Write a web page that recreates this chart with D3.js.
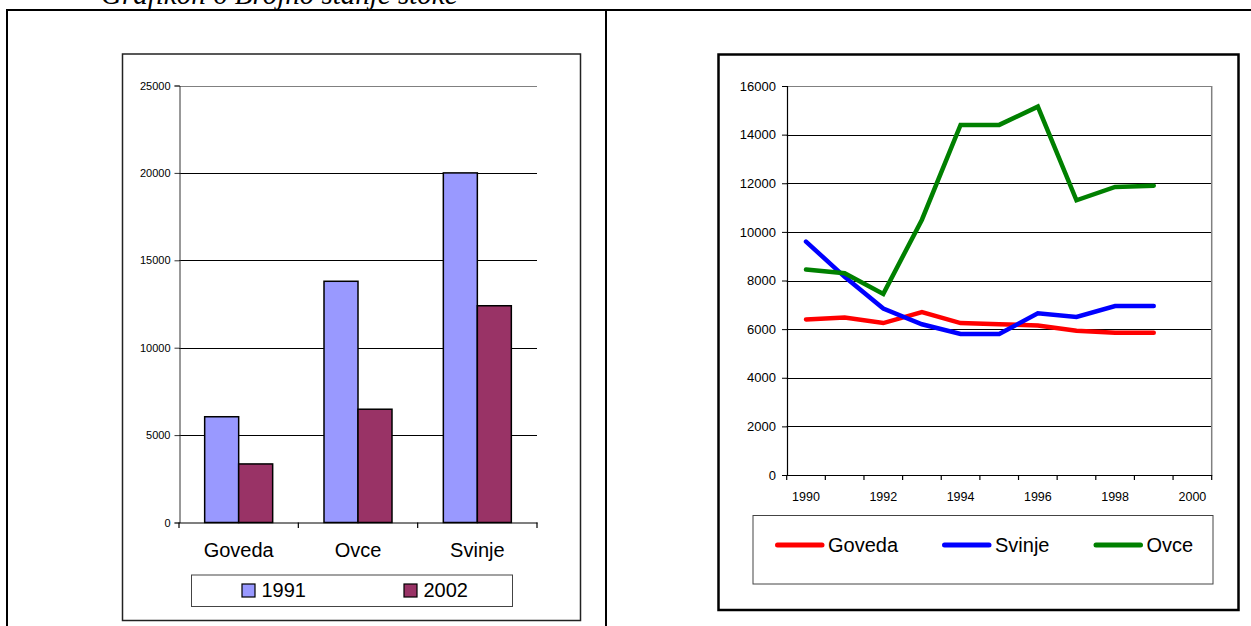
<!DOCTYPE html>
<html>
<head>
<meta charset="utf-8">
<script src="https://cdn.jsdelivr.net/npm/d3@7"></script>
<style>
  html, body { margin: 0; padding: 0; background: #fff; }
  svg { display: block; }
  text { font-family: Arial, "Liberation Sans", sans-serif; }
</style>
</head>
<body>
<svg id="chart" width="1251" height="626"></svg>
<script>
// ---------- data ----------
const titleText = "Grafikon 6 Brojno stanje stoke";

const barCategories = ["Goveda", "Ovce", "Svinje"];
const barSeries = ["1991", "2002"];
const values1991 = [6050, 13800, 20000];
const values2002 = [3350, 6480, 12400];
const barTicks = [0, 5000, 10000, 15000, 20000, 25000];

const years = ["1990", "1991", "1992", "1993", "1994", "1995", "1996", "1997", "1998", "1999", "2000"];
const yearLabels = ["1990", "1992", "1994", "1996", "1998", "2000"];
const lineSeries = ["Goveda", "Svinje", "Ovce"];
const goveda = [6400, 6480, 6250, 6700, 6250, 6200, 6150, 5930, 5850, 5850];
const svinje = [9600, 8150, 6850, 6200, 5800, 5800, 6650, 6500, 6950, 6950];
const ovce = [8450, 8300, 7450, 10500, 14400, 14400, 15150, 11300, 11850, 11900];
const lineTicks = [0, 2000, 4000, 6000, 8000, 10000, 12000, 14000, 16000];

// ---------- drawing ----------
const svg = d3.select("#chart");

// title (cut off at the top)
svg.append("text")
  .attr("x", 101).attr("y", 4)
  .style("font-family", "'Liberation Serif', 'Times New Roman', serif")
  .style("font-style", "italic")
  .style("font-size", "29px")
  .attr("fill", "#000")
  .text(titleText);

// table lines
svg.append("line").attr("x1", 6).attr("x2", 1251).attr("y1", 10).attr("y2", 10).attr("stroke", "#000").attr("stroke-width", 2);
svg.append("line").attr("x1", 7).attr("x2", 7).attr("y1", 9).attr("y2", 626).attr("stroke", "#000").attr("stroke-width", 2);
svg.append("line").attr("x1", 606).attr("x2", 606).attr("y1", 9).attr("y2", 626).attr("stroke", "#000").attr("stroke-width", 2);

// ===== LEFT: bar chart =====
const L = svg.append("g");
L.append("rect").attr("x", 122.5).attr("y", 54).attr("width", 458).attr("height", 566.5)
  .attr("fill", "#fff").attr("stroke", "#222").attr("stroke-width", 1.5);

const bx = d3.scaleBand().domain(barCategories).range([179, 537]).padding(0);
const bxs = d3.scaleBand().domain(barSeries).range([0, bx.bandwidth()]).paddingInner(0).paddingOuter(0.755);
const by = d3.scaleLinear().domain([0, 25000]).range([522.5, 85.5]);

// gridlines
L.append("g").selectAll("line").data(barTicks.filter(t => t > 0)).join("line")
  .attr("x1", 179).attr("x2", 537)
  .attr("y1", d => Math.round(by(d)) + 0.5).attr("y2", d => Math.round(by(d)) + 0.5)
  .attr("stroke", d => d === 25000 ? "#808080" : "#000").attr("stroke-width", 1);

// bars
const barColors = { "1991": "#9999FF", "2002": "#993366" };
const barData = [];
barCategories.forEach((c, i) => {
  barData.push({ cat: c, ser: "1991", v: values1991[i] });
  barData.push({ cat: c, ser: "2002", v: values2002[i] });
});
L.append("g").selectAll("rect").data(barData).join("rect")
  .attr("x", d => bx(d.cat) + bxs(d.ser))
  .attr("width", bxs.bandwidth())
  .attr("y", d => by(d.v))
  .attr("height", d => by(0) - by(d.v))
  .attr("fill", d => barColors[d.ser])
  .attr("stroke", "#000").attr("stroke-width", 1.5);

// y axis
const byAxis = d3.axisLeft(by).tickValues(barTicks).tickSize(5).tickPadding(4).tickFormat(d3.format("d"));
const gby = L.append("g").attr("transform", "translate(179.5,0)").call(byAxis);
gby.select(".domain").attr("stroke", "#333");
gby.selectAll(".tick line").attr("stroke", "#333");
gby.selectAll(".tick text").style("font-size", "11px").attr("fill", "#000");

// x axis
const bxAxis = d3.axisBottom(bx).tickSize(0).tickPadding(20);
const gbx = L.append("g").attr("transform", "translate(0,522.5)").call(bxAxis);
gbx.select(".domain").attr("stroke", "#000").attr("stroke-width", 1.2);
gbx.selectAll(".tick text").style("font-size", "20px").attr("fill", "#000");
// boundary tick marks
L.append("g").selectAll("line").data(barCategories.concat(["__end"])).join("line")
  .attr("x1", (d, i) => i < barCategories.length ? bx(d) : bx.range()[1])
  .attr("x2", (d, i) => i < barCategories.length ? bx(d) : bx.range()[1])
  .attr("y1", 522.5).attr("y2", 528).attr("stroke", "#000").attr("stroke-width", 1.2);

// legend
const lg = L.append("g");
lg.append("rect").attr("x", 191.5).attr("y", 575).attr("width", 321).attr("height", 31.5)
  .attr("fill", "#fff").attr("stroke", "#444").attr("stroke-width", 1);
const legX = { "1991": 242, "2002": 404 };
barSeries.forEach(s => {
  lg.append("rect").attr("x", legX[s]).attr("y", 584).attr("width", 13).attr("height", 13)
    .attr("fill", barColors[s]).attr("stroke", "#000").attr("stroke-width", 1.2);
  lg.append("text").attr("x", legX[s] + 19.5).attr("y", 597).style("font-size", "20px").attr("fill", "#000").text(s);
});

// ===== RIGHT: line chart =====
const R = svg.append("g");
R.append("rect").attr("x", 718.5).attr("y", 54.5).attr("width", 520).attr("height", 555.5)
  .attr("fill", "#fff").attr("stroke", "#000").attr("stroke-width", 2.5);

const lx = d3.scaleBand().domain(years).range([786.7, 1211.7]).padding(0);
const ly = d3.scaleLinear().domain([0, 16000]).range([475, 86]);

// gridlines
R.append("g").selectAll("line").data(lineTicks.filter(t => t > 0)).join("line")
  .attr("x1", 786.7).attr("x2", 1211.7)
  .attr("y1", d => Math.round(ly(d)) + 0.5).attr("y2", d => Math.round(ly(d)) + 0.5)
  .attr("stroke", d => d === 16000 ? "#808080" : "#000").attr("stroke-width", 1);
// right border of plot area
R.append("line").attr("x1", 1211.7).attr("x2", 1211.7).attr("y1", ly(16000)).attr("y2", ly(0))
  .attr("stroke", "#808080").attr("stroke-width", 1.5);

// y axis
const lyAxis = d3.axisLeft(ly).tickValues(lineTicks).tickSize(5).tickPadding(6).tickFormat(d3.format("d"));
const gly = R.append("g").attr("transform", "translate(787,0)").call(lyAxis);
gly.select(".domain").attr("stroke", "#000").attr("stroke-width", 1.2);
gly.selectAll(".tick line").attr("stroke", "#000");
gly.selectAll(".tick text").style("font-size", "13px").attr("fill", "#000");

// x axis
const lxAxis = d3.axisBottom(lx).tickSize(0).tickPadding(17)
  .tickFormat(d => yearLabels.includes(d) ? d : "");
const glx = R.append("g").attr("transform", "translate(0,475)").call(lxAxis);
glx.select(".domain").attr("stroke", "#000").attr("stroke-width", 1.2);
glx.selectAll(".tick text").style("font-size", "12.5px").attr("fill", "#000");
R.append("g").selectAll("line").data(years.concat(["__end"])).join("line")
  .attr("x1", (d, i) => i < years.length ? lx(d) : lx.range()[1])
  .attr("x2", (d, i) => i < years.length ? lx(d) : lx.range()[1])
  .attr("y1", 475).attr("y2", 480).attr("stroke", "#000").attr("stroke-width", 1.2);

// lines
const lineColors = { "Goveda": "#FF0000", "Svinje": "#0000FF", "Ovce": "#008000" };
const lineValues = { "Goveda": goveda, "Svinje": svinje, "Ovce": ovce };
const lineGen = d3.line()
  .x((d, i) => lx(years[i]) + lx.bandwidth() / 2)
  .y(d => ly(d));
["Goveda", "Svinje", "Ovce"].forEach(s => {
  R.append("path").datum(lineValues[s]).attr("d", lineGen)
    .attr("fill", "none").attr("stroke", lineColors[s]).attr("stroke-width", 4.5)
    .attr("stroke-linejoin", "miter").attr("stroke-linecap", "round");
});

// legend
const rl = R.append("g");
rl.append("rect").attr("x", 753).attr("y", 515.5).attr("width", 460).attr("height", 68.5)
  .attr("fill", "#fff").attr("stroke", "#444").attr("stroke-width", 1);
const rlX = { "Goveda": 776, "Svinje": 943, "Ovce": 1094.5 };
lineSeries.forEach(s => {
  rl.append("line").attr("x1", rlX[s] + 1.5).attr("x2", rlX[s] + 46).attr("y1", 545).attr("y2", 545)
    .attr("stroke", lineColors[s]).attr("stroke-width", 5).attr("stroke-linecap", "round");
  rl.append("text").attr("x", rlX[s] + 52).attr("y", 552).style("font-size", "20px").attr("fill", "#000").text(s);
});
</script>
</body>
</html>
